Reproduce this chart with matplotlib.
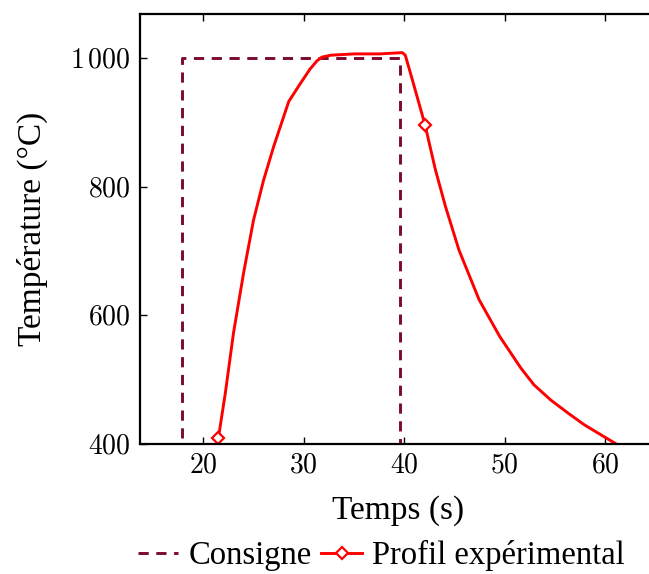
import numpy as np
import matplotlib
matplotlib.use('Agg')
import matplotlib.pyplot as plt
from matplotlib.ticker import FixedLocator, FixedFormatter

plt.rcParams['font.family'] = ['Liberation Serif', 'DejaVu Serif']
plt.rcParams['mathtext.fontset'] = 'cm'

# consigne (setpoint)
consigne_t = [17.9, 17.9, 39.6, 39.6]
consigne_T = [410, 1000, 1000, 400]

# profil expérimental
profil_t = [21.5, 22.2, 23.0, 24.0, 25.0, 26.0, 27.0, 28.5, 29.7, 30.6, 31.3, 31.8,
            32.7, 35.0, 37.5, 39.8, 40.1, 40.8, 42.06, 43.1, 44.1, 45.45, 47.45,
            49.5, 51.6, 52.9, 54.6, 56.3, 57.9, 59.6, 61.1]
profil_T = [409, 480, 572, 665, 748, 810, 862, 932, 961, 982, 995, 1001,
            1004, 1006, 1006, 1008, 1004, 966, 896, 826, 769, 701, 624,
            567, 518, 492, 468, 448, 430, 414, 400]
marker_idx = [0, 18]

xticks = [20, 30, 40, 50, 60]
yticks = [400, 600, 800, 1000]
ytick_labels = [r'$400$', r'$600$', r'$800$', r'$1\,000$']

fig = plt.figure(figsize=(6.49, 5.74), dpi=100)
ax = fig.add_axes([140 / 649, 130 / 574, 1.01 - 140 / 649, 430 / 574])

l1, = ax.plot(consigne_t, consigne_T, color='#7a0a2e', lw=2.1, dashes=(3.5, 2.6),
              label='Consigne')
l2, = ax.plot(profil_t, profil_T, color='#ff0000', lw=2.1, marker='D', markersize=6,
              markerfacecolor='white', markeredgewidth=1.6, markevery=marker_idx,
              label='Profil expérimental')

ax.set_xlim(13.7, 65)
ax.set_ylim(400, 1068)
ax.xaxis.set_major_locator(FixedLocator(xticks))
ax.xaxis.set_major_formatter(FixedFormatter([r'$%d$' % v for v in xticks]))
ax.yaxis.set_major_locator(FixedLocator(yticks))
ax.yaxis.set_major_formatter(FixedFormatter(ytick_labels))
ax.tick_params(direction='in', top=True, right=False, length=5, width=1,
               labelsize=20, pad=7)
for s in ax.spines.values():
    s.set_linewidth(1.6)

ax.set_xlabel('Temps (s)', fontsize=24, labelpad=12)
ax.set_ylabel('Température (°C)', fontsize=24, labelpad=16)

fig.legend(handles=[l1, l2], loc='center left', bbox_to_anchor=(0.212, 0.032),
           ncol=2, frameon=False, fontsize=23.5, handlelength=1.25,
           handletextpad=0.3, columnspacing=0.3, borderpad=0, borderaxespad=0)

fig.savefig('out.png', dpi=100)
